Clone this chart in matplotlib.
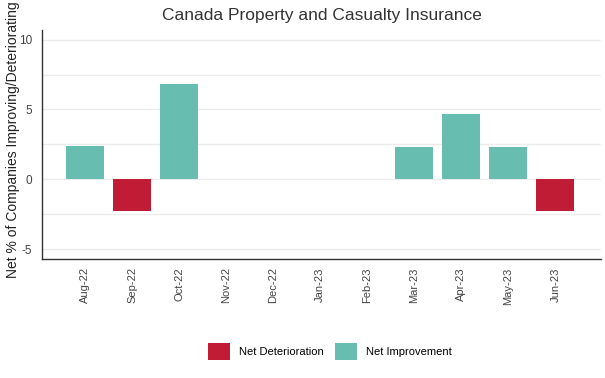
import matplotlib.pyplot as plt
from matplotlib.patches import Patch
from matplotlib.ticker import MultipleLocator

plt.rcParams["font.family"] = ["Liberation Sans", "DejaVu Sans"]
plt.rcParams["axes.unicode_minus"] = False

months = ["Aug-22", "Sep-22", "Oct-22", "Nov-22", "Dec-22", "Jan-23",
          "Feb-23", "Mar-23", "Apr-23", "May-23", "Jun-23"]
net_pct = [2.4, -2.3, 6.8, 0, 0, 0, 0, 2.3, 4.7, 2.3, -2.3]

red = "#C01C35"
teal = "#66BDB0"

fig = plt.figure(figsize=(6.05, 3.78), dpi=100)
ax = fig.add_axes([0.069, 0.315, 0.925, 0.606])

colors = [teal if v > 0 else red for v in net_pct]
x = list(range(len(months)))
ax.bar(x, net_pct, width=0.8, color=colors, zorder=3)

ax.set_xlim(-0.92, 10.98)
ax.set_ylim(-5.7, 10.7)
ax.yaxis.set_major_locator(MultipleLocator(5))
ax.yaxis.set_minor_locator(MultipleLocator(2.5))
ax.grid(axis="y", which="both", color="#ebebeb", linewidth=0.9, zorder=0)
ax.set_xticks(x)
ax.set_xticklabels(months, rotation=90, fontsize=8, color="#444444")
ax.tick_params(axis="y", labelsize=8.5, colors="#444444")
ax.tick_params(axis="x", which="both", length=0, pad=6)
ax.tick_params(axis="y", which="both", length=0, pad=7)

for side in ["top", "right"]:
    ax.spines[side].set_visible(False)
for side in ["left", "bottom"]:
    ax.spines[side].set_color("#333333")
    ax.spines[side].set_linewidth(1.0)

fig.text(0.022, 0.63, "Net % of Companies Improving/Deteriorating",
         rotation=90, ha="center", va="center", fontsize=10, color="#222222")
ax.set_title("Canada Property and Casualty Insurance", fontsize=12.5,
             color="#333333", pad=7)

handles = [Patch(facecolor=red, label="Net Deterioration"),
           Patch(facecolor=teal, label="Net Improvement")]
fig.legend(handles=handles, loc="center", bbox_to_anchor=(0.545, 0.07), ncol=2,
           frameon=False, fontsize=8, handlelength=2.0, handleheight=2.0,
           columnspacing=1.0, handletextpad=0.8)

fig.savefig("out.png", dpi=100)
